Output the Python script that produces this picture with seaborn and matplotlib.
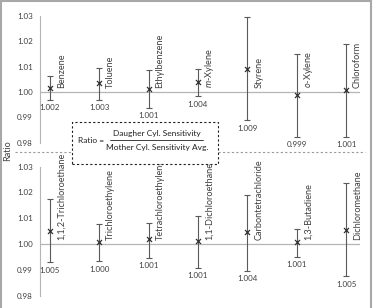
import matplotlib
matplotlib.use("Agg")
import matplotlib.pyplot as plt
import seaborn as sns
import pandas as pd
from matplotlib.lines import Line2D
from matplotlib.patches import Rectangle

# ---- data ----
top_names = ["Benzene", "Toluene", "Ethylbenzene", "$m$-Xylene", "Styrene", "$o$-Xylene", "Chloroform"]
top_mean = [1.0015, 1.0035, 1.0013, 1.0040, 1.0091, 0.9987, 1.0008]
top_upper = [1.0062, 1.0095, 1.0085, 1.0091, 1.0294, 1.0148, 1.0190]
top_lower = [0.9970, 0.9970, 0.9938, 0.9984, 0.9890, 0.9825, 0.9825]
top_labels = ["1.002", "1.003", "1.001", "1.004", "1.009", "0.999", "1.001"]

bot_names = ["1,1,2-Trichloroethane", "Trichloroethylene", "Tetrachloroethylene",
             "1,1-Dichloroethane", "Carbontetrachloride", "1,3-Butadiene", "Dichloromethane"]
bot_mean = [1.0052, 1.0007, 1.0018, 1.0012, 1.0045, 1.0007, 1.0054]
bot_upper = [1.0175, 1.0078, 1.0083, 1.0110, 1.0190, 1.0060, 1.0236]
bot_lower = [0.9929, 0.9934, 0.9946, 0.9909, 0.9896, 0.9950, 0.9875]
bot_labels = ["1.005", "1.000", "1.001", "1.001", "1.004", "1.001", "1.005"]

y_ticks = [0.98, 0.99, 1.00, 1.01, 1.02, 1.03]
y_ticklabels = ["0.98", "0.99", "1.00", "1.01", "1.02", "1.03"]

sns.set_style("white")
plt.rcParams["font.family"] = ["Lato", "DejaVu Sans"]
plt.rcParams["mathtext.fontset"] = "custom"
plt.rcParams["mathtext.rm"] = "Lato"
plt.rcParams["mathtext.it"] = "Lato:italic"

TXT = "#404040"

fig = plt.figure(figsize=(3.73, 3.08), dpi=100)
fig.patch.set_facecolor("white")

ax_top = fig.add_axes([0.107, 0.536, 0.858, 0.413])
ax_bot = fig.add_axes([0.107, 0.040, 0.858, 0.419])


def panel(ax, names, mean, lower, upper, labels):
    df = pd.DataFrame({"x": list(range(len(names))), "name": names, "mean": mean,
                       "lower": lower, "upper": upper, "label": labels})
    ax.axhline(1.0, color="#b5b5b5", lw=0.9, zorder=1)
    ax.errorbar(df["x"], df["mean"],
                yerr=[df["mean"] - df["lower"], df["upper"] - df["mean"]],
                fmt="none", ecolor="#5a5a5a", elinewidth=0.8, capsize=2, capthick=0.8, zorder=2)
    sns.scatterplot(data=df, x="x", y="mean", marker="x", color="#303030", s=13,
                    linewidth=0.9, ax=ax, zorder=3, legend=False)
    for _, r in df.iterrows():
        ax.text(r["x"] + 0.23, 1.0016, r["name"], rotation=90, ha="center", va="bottom",
                fontsize=6.6, color=TXT)
        ax.annotate(r["label"], (r["x"], r["lower"]), xytext=(0, -8), textcoords="offset pixels",
                    ha="center", va="center", fontsize=5.8, color=TXT)
    ax.set_xlim(-0.2, 6.28)
    ax.set_ylim(0.98, 1.03)
    ax.set_yticks(y_ticks)
    ax.set_yticklabels(y_ticklabels)
    ax.set_xticks([])
    ax.set_xlabel("")
    ax.set_ylabel("")
    for s in ["top", "right", "bottom"]:
        ax.spines[s].set_visible(False)
    ax.spines["left"].set_color("#b5b5b5")
    ax.spines["left"].set_linewidth(0.8)
    ax.tick_params(axis="y", length=0, pad=5, labelsize=5.8, labelcolor=TXT)
    ax.patch.set_alpha(0)


panel(ax_top, top_names, top_mean, top_lower, top_upper, top_labels)
panel(ax_bot, bot_names, bot_mean, bot_lower, bot_upper, bot_labels)

# y label
fig.text(0.021, 0.51, "Ratio", rotation=90, ha="center", va="center", fontsize=6.5, color=TXT)

# separator dashed line
for x0, x1 in [(0.040, 0.192), (0.584, 0.978)]:
    fig.add_artist(Line2D([x0, x1], [0.506, 0.506], transform=fig.transFigure,
                          color="#9a9a9a", lw=0.8, ls=(0, (2, 2))))

# formula box
fig.add_artist(Rectangle((0.192, 0.467), 0.392, 0.138, transform=fig.transFigure,
                         facecolor="white", edgecolor="#202020", lw=0.8, ls=(0, (2, 2)), zorder=5))
fig.text(0.244, 0.545, "Ratio =", ha="center", va="center", fontsize=6, color="#202020", zorder=6)
fig.text(0.421, 0.568, "Daugher Cyl. Sensitivity", ha="center", va="center", fontsize=6,
         color="#202020", zorder=6)
fig.add_artist(Line2D([0.295, 0.545], [0.545, 0.545], transform=fig.transFigure,
                      color="#202020", lw=0.6, zorder=6))
fig.text(0.422, 0.521, "Mother Cyl. Sensitivity Avg.", ha="center", va="center", fontsize=6,
         color="#202020", zorder=6)

# outer border
for xs, ys in [([0.003, 0.003], [0, 0.996]), ([0.003, 0.995], [0.996, 0.996]),
               ([0.995, 0.995], [0, 0.996])]:
    fig.add_artist(Line2D(xs, ys, transform=fig.transFigure, color="#a8a8a8", lw=1.5))

fig.savefig("out.png", dpi=100)
